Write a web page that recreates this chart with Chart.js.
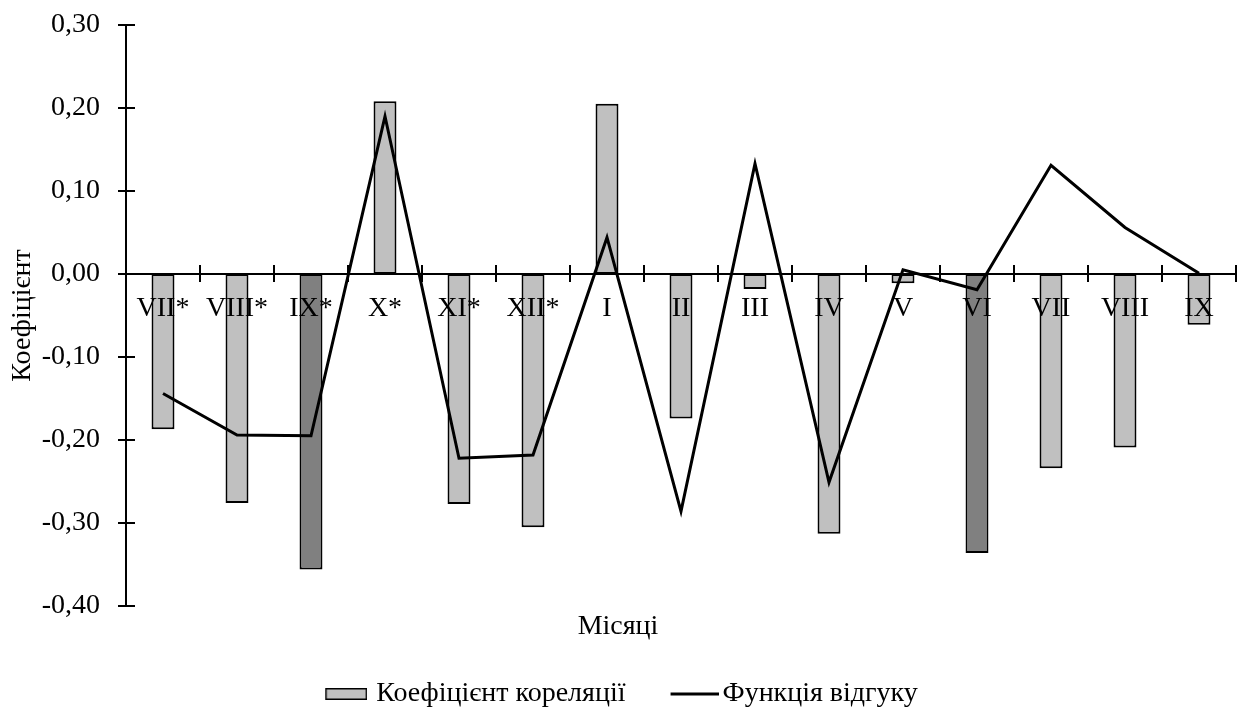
<!DOCTYPE html>
<html lang="uk">
<head>
<meta charset="utf-8">
<title>Коефіцієнт кореляції та функція відгуку</title>
<script src="https://cdn.jsdelivr.net/npm/chart.js@4/dist/chart.umd.min.js"></script>
<style>
  html, body { margin: 0; padding: 0; background: #ffffff; }
  #wrap { width: 1240px; height: 710px; }
</style>
</head>
<body>
<div id="wrap"><canvas id="chart" width="1240" height="710"></canvas></div>
<script>
// Місяці (* — попередній рік)
const months = ['VII*', 'VIII*', 'IX*', 'X*', 'XI*', 'XII*', 'I', 'II', 'III', 'IV', 'V', 'VI', 'VII', 'VIII', 'IX'];

// Коефіцієнт кореляції
const correlation = [-0.187, -0.276, -0.356, 0.208, -0.277, -0.305, 0.205, -0.174, -0.018, -0.313, -0.011, -0.336, -0.234, -0.209, -0.061];

// Функція відгуку
const response = [-0.144, -0.194, -0.195, 0.190, -0.222, -0.218, 0.044, -0.286, 0.133, -0.251, 0.005, -0.019, 0.131, 0.056, 0.001];

// Місяці з виділеними (значущими) стовпцями
const significant = ['IX*', 'VI'];

// Межі та крок осі Y
const yMin = -0.4;
const yMax = 0.3;
const yStep = 0.1;

const FONT = "'Liberation Serif', 'Times New Roman', serif";
const FONT_SIZE = 28;
const LIGHT = '#c0c0c0';
const DARK = '#808080';

const barColors = months.map(m => significant.includes(m) ? DARK : LIGHT);

// Значки легенди: полотно, зсунуте так, щоб значок стояв поруч із текстом
const LEGEND_SLOT = 44;    // ширина місця під значок у легенді
const LEGEND_PAD = 39;     // відступ між елементами легенди
function legendSymbol(kind) {
  const symW = kind === 'bar' ? 42 : 48;
  const gap = kind === 'bar' ? 9 : 4;
  const reach = LEGEND_SLOT / 2 + FONT_SIZE / 2 - gap; // від центру місця до правого краю значка
  const half = Math.max(reach, symW - reach);
  const w = 2 * Math.ceil(half);
  const h = 16;
  const c = document.createElement('canvas');
  c.width = w;
  c.height = h;
  const g = c.getContext('2d');
  const right = w / 2 + reach;
  if (kind === 'bar') {
    g.fillStyle = LIGHT;
    g.fillRect(right - symW, 2, symW, 12);
    g.strokeStyle = '#000';
    g.lineWidth = 1.5;
    g.strokeRect(right - symW + 0.75, 2.75, symW - 1.5, 10.5);
  } else {
    g.strokeStyle = '#000';
    g.lineWidth = 3;
    g.beginPath();
    g.moveTo(right - symW, h / 2);
    g.lineTo(right, h / 2);
    g.stroke();
  }
  return c;
}

// Штрихи осей, що перетинають лінію осі
const crossTicks = {
  id: 'crossTicks',
  afterDatasetsDraw(chart) {
    const { ctx } = chart;
    const x = chart.scales.x;
    const y = chart.scales.y;
    const x0 = x.left;
    const y0 = y.getPixelForValue(0);
    ctx.save();
    ctx.strokeStyle = '#000';
    ctx.lineWidth = 2;
    ctx.beginPath();
    y.ticks.forEach(t => {
      const py = Math.round(y.getPixelForValue(t.value));
      ctx.moveTo(x0 - 8, py);
      ctx.lineTo(x0 + 9, py);
    });
    for (let i = 0; i <= months.length; i++) {
      const px = Math.round(x.getPixelForValue(i - 0.5));
      ctx.moveTo(px, y0 - 9);
      ctx.lineTo(px, y0 + 8);
    }
    ctx.stroke();
    ctx.restore();
  }
};

new Chart(document.getElementById('chart'), {
  data: {
    labels: months,
    datasets: [
      {
        type: 'bar',
        label: 'Коефіцієнт кореляції',
        data: correlation,
        backgroundColor: barColors,
        borderColor: '#000',
        borderWidth: 2,
        borderSkipped: false,
        categoryPercentage: 1,
        barPercentage: 0.31,
        pointStyle: legendSymbol('bar'),
        order: 1
      },
      {
        type: 'line',
        label: 'Функція відгуку',
        data: response,
        borderColor: '#000',
        backgroundColor: '#000',
        borderWidth: 3,
        pointRadius: 0,
        pointHoverRadius: 0,
        tension: 0,
        fill: false,
        pointStyle: legendSymbol('line'),
        order: 0
      }
    ]
  },
  options: {
    responsive: false,
    animation: false,
    devicePixelRatio: 1,
    layout: { padding: { left: 0, right: 4, top: 25, bottom: 0 } },
    scales: {
      x: {
        type: 'category',
        offset: true,
        position: { y: 0 },
        grid: { display: true, drawOnChartArea: false, drawTicks: false },
        border: { display: true, color: '#000', width: 2, z: 1 },
        ticks: {
          z: 1,
          color: '#000',
          padding: 18,
          maxRotation: 0,
          autoSkip: false,
          font: { family: FONT, size: FONT_SIZE }
        }
      },
      y: {
        min: yMin,
        max: yMax,
        grid: { display: true, drawOnChartArea: false, drawTicks: false },
        border: { display: true, color: '#000', width: 2 },
        ticks: {
          stepSize: yStep,
          color: '#000',
          padding: 26,
          font: { family: FONT, size: FONT_SIZE },
          callback: v => (Math.abs(v) < 1e-9 ? 0 : v).toFixed(2).replace('.', ',')
        },
        title: {
          display: true,
          text: 'Коефіцієнт',
          color: '#000',
          padding: { top: 6, bottom: 0 },
          font: { family: FONT, size: FONT_SIZE }
        },
        afterFit(scale) {
          scale.width = 126;
          scale.paddingTop = 0;
          scale.paddingBottom = 0;
        }
      }
    },
    plugins: {
      tooltip: { enabled: false },
      title: {
        display: true,
        text: 'Місяці',
        position: 'bottom',
        weight: 500,
        color: '#000',
        padding: { top: 7, bottom: 0 },
        font: { family: FONT, size: FONT_SIZE, weight: 'normal', lineHeight: 1 }
      },
      legend: {
        position: 'bottom',
        weight: 1000,
        maxHeight: 69,
        labels: {
          usePointStyle: true,
          pointStyleWidth: LEGEND_SLOT,
          boxHeight: 16,
          padding: LEGEND_PAD,
          color: '#000',
          font: { family: FONT, size: FONT_SIZE },
          sort: (a, b) => a.datasetIndex - b.datasetIndex
        }
      }
    }
  },
  plugins: [crossTicks]
});
</script>
</body>
</html>
